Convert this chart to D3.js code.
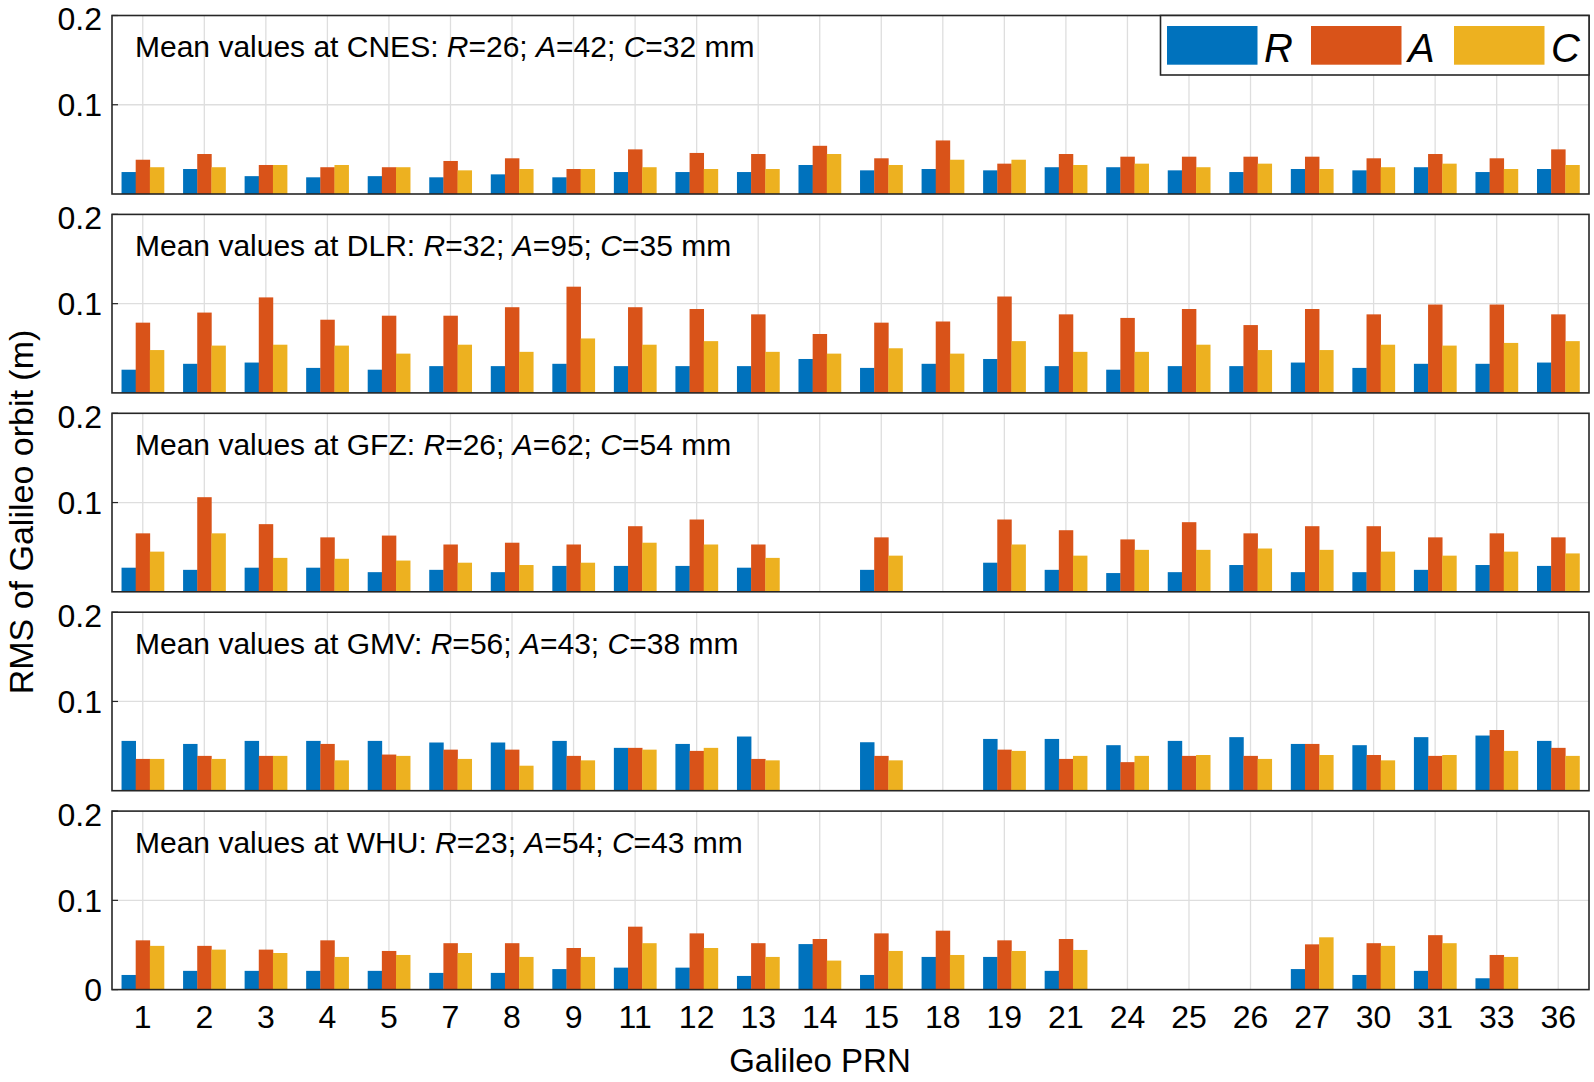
<!DOCTYPE html>
<html>
<head>
<meta charset="utf-8">
<script src="https://cdn.jsdelivr.net/npm/d3@7"></script>
<style>
html,body{margin:0;padding:0;background:#fff;}
svg{display:block;}
</style>
</head>
<body>
<svg id="chart" width="1594" height="1082" font-family="'Liberation Sans', Arial, Helvetica, sans-serif"></svg>
<script>
// ---------- DATA ----------
const prns = ["1","2","3","4","5","7","8","9","11","12","13","14","15","18","19","21","24","25","26","27","30","31","33","36"];
const components = ["R","A","C"];
const centers = ["CNES","DLR","GFZ","GMV","WHU"];
const meanR = [26,32,26,56,23];
const meanA = [42,95,62,43,54];
const meanC = [32,35,54,38,43];
const yTicks = [0,0.1,0.2];

const cnesR = [0.0246,0.028,0.020,0.0187,0.020,0.0187,0.022,0.0187,0.0246,0.0246,0.0246,0.0325,0.0265,0.028,0.0265,0.030,0.030,0.0265,0.0246,0.028,0.0265,0.030,0.0246,0.028];
const cnesA = [0.0384,0.0448,0.0325,0.030,0.030,0.037,0.040,0.028,0.050,0.046,0.0448,0.054,0.040,0.060,0.034,0.0448,0.0418,0.0418,0.0418,0.0418,0.040,0.0448,0.040,0.050];
const cnesC = [0.030,0.030,0.0325,0.0325,0.030,0.0265,0.028,0.028,0.030,0.028,0.028,0.0448,0.0325,0.0384,0.0384,0.0325,0.034,0.030,0.034,0.028,0.030,0.034,0.028,0.0325];

const dlrR = [0.026,0.0326,0.034,0.028,0.026,0.030,0.030,0.0326,0.030,0.030,0.030,0.038,0.028,0.0326,0.038,0.030,0.026,0.030,0.030,0.034,0.028,0.0326,0.0326,0.034];
const dlrA = [0.0787,0.090,0.107,0.082,0.0865,0.0865,0.096,0.119,0.096,0.094,0.088,0.066,0.0787,0.080,0.108,0.088,0.084,0.094,0.076,0.094,0.088,0.099,0.099,0.088];
const dlrC = [0.048,0.053,0.054,0.053,0.044,0.054,0.046,0.061,0.054,0.058,0.046,0.044,0.050,0.044,0.058,0.046,0.046,0.054,0.048,0.048,0.054,0.053,0.056,0.058];

const gfzR = [0.027,0.0246,0.027,0.027,0.022,0.0246,0.022,0.029,0.029,0.029,0.027,null,0.0246,null,0.0326,0.0246,0.021,0.022,0.030,0.022,0.022,0.0246,0.030,0.029];
const gfzA = [0.0655,0.106,0.0758,0.061,0.063,0.053,0.055,0.053,0.0735,0.081,0.053,null,0.061,null,0.081,0.069,0.0587,0.078,0.0655,0.0735,0.0735,0.061,0.0655,0.061];
const gfzC = [0.045,0.0655,0.038,0.037,0.035,0.0326,0.030,0.0326,0.055,0.053,0.038,null,0.0405,null,0.053,0.0405,0.047,0.047,0.0485,0.047,0.045,0.0405,0.045,0.043];

const gmvR = [0.0558,0.0524,0.0558,0.0558,0.0558,0.054,0.054,0.0558,0.048,0.0524,0.0607,null,0.0543,null,0.058,0.058,0.051,0.0558,0.060,0.0524,0.051,0.060,0.0618,0.0558];
const gmvA = [0.0356,0.039,0.039,0.0524,0.0405,0.046,0.046,0.039,0.048,0.0446,0.0356,null,0.039,null,0.046,0.0356,0.032,0.039,0.039,0.0524,0.040,0.039,0.068,0.048];
const gmvC = [0.0356,0.0356,0.039,0.034,0.039,0.0356,0.028,0.034,0.046,0.048,0.034,null,0.034,null,0.0446,0.039,0.039,0.040,0.0356,0.040,0.034,0.040,0.0446,0.039];

const whuR = [0.0164,0.021,0.021,0.021,0.021,0.0187,0.0187,0.023,0.0246,0.0246,0.0153,0.051,0.0164,0.0366,0.0366,0.021,null,null,null,0.023,0.0164,0.021,0.0127,null];
const whuA = [0.0552,0.049,0.0448,0.0552,0.0433,0.052,0.052,0.0466,0.0705,0.063,0.052,0.0567,0.063,0.066,0.0552,0.0567,null,null,null,0.0507,0.052,0.061,0.0388,null];
const whuC = [0.049,0.0448,0.041,0.0366,0.0388,0.041,0.0366,0.0366,0.052,0.0466,0.0366,0.0325,0.0433,0.0388,0.0433,0.0444,null,null,null,0.0586,0.049,0.052,0.0366,null];

const seriesByCenter = [
  [cnesR,cnesA,cnesC],
  [dlrR,dlrA,dlrC],
  [gfzR,gfzA,gfzC],
  [gmvR,gmvA,gmvC],
  [whuR,whuA,whuC]
];

// ---------- LAYOUT ----------
const colors = ["#0072BD","#D95319","#EDB120"];
const left = 112, right = 1589;
const panelTop0 = 15.5, panelStep = 198.9, panelH = 178.5;
const axisColor = "#262626";
const gridColor = "#dedede";

const svg = d3.select("#chart");
const x0 = d3.scaleBand().domain(prns).range([left,right]).paddingInner(0).paddingOuter(0);
const groupW = x0.bandwidth()*0.69;
const x1 = d3.scaleBand().domain(components).range([-groupW/2, groupW/2]).padding(0);

centers.forEach((name, pi) => {
  const top = panelTop0 + pi*panelStep;
  const bottom = top + panelH;
  const y = d3.scaleLinear().domain([0,0.2]).range([bottom, top]);
  const g = svg.append("g");

  // vertical grid
  g.selectAll("line.vg").data(prns).enter().append("line")
    .attr("x1", d => x0(d)+x0.bandwidth()/2).attr("x2", d => x0(d)+x0.bandwidth()/2)
    .attr("y1", top).attr("y2", bottom)
    .attr("stroke", gridColor).attr("stroke-width", 1.3);
  // horizontal grid
  g.append("line").attr("x1", left).attr("x2", right)
    .attr("y1", y(0.1)).attr("y2", y(0.1))
    .attr("stroke", gridColor).attr("stroke-width", 1.3);

  // bars
  const series = seriesByCenter[pi];
  components.forEach((c, si) => {
    const vals = series[si];
    g.selectAll("rect.s"+si).data(prns.map((p,i)=>({p, v: vals[i]})).filter(d => d.v != null))
      .enter().append("rect")
      .attr("x", d => x0(d.p)+x0.bandwidth()/2 + x1(c))
      .attr("width", x1.bandwidth()+0.3)
      .attr("y", d => y(d.v))
      .attr("height", d => y(0)-y(d.v))
      .attr("fill", colors[si]);
  });

  // axis box
  g.append("rect").attr("x", left).attr("y", top).attr("width", right-left).attr("height", panelH)
    .attr("fill","none").attr("stroke", axisColor).attr("stroke-width", 1.6);

  // y axis tick labels
  const yt = pi === centers.length-1 ? yTicks : yTicks.filter(t => t > 0);
  g.selectAll("text.yt").data(yt).enter().append("text")
    .attr("x", 102).attr("y", d => y(d))
    .attr("dy", d => d === 0.2 ? "0.45em" : "0.35em")
    .attr("text-anchor","end").attr("font-size",32).attr("fill","#000")
    .text(d => d === 0 ? "0" : d3.format(".1f")(d));

  // small inward ticks on y axis
  g.selectAll("line.yk").data(yt).enter().append("line")
    .attr("x1", left).attr("x2", left+6).attr("y1", d=>y(d)).attr("y2", d=>y(d))
    .attr("stroke", axisColor).attr("stroke-width",1.2);

  // annotation
  const t = g.append("text").attr("x", 135).attr("y", top+41.5)
    .attr("font-size", 30).attr("fill","#000");
  t.append("tspan").text("Mean values at " + name + ": ");
  t.append("tspan").attr("font-style","italic").text("R");
  t.append("tspan").text("=" + meanR[pi] + "; ");
  t.append("tspan").attr("font-style","italic").text("A");
  t.append("tspan").text("=" + meanA[pi] + "; ");
  t.append("tspan").attr("font-style","italic").text("C");
  t.append("tspan").text("=" + meanC[pi] + " mm");

  // bottom x tick labels
  if (pi === centers.length-1) {
    g.selectAll("text.xt").data(prns).enter().append("text")
      .attr("x", d => x0(d)+x0.bandwidth()/2).attr("y", 1028)
      .attr("text-anchor","middle").attr("font-size",32).attr("fill","#000")
      .text(d => d);
  }
});

// x axis title
svg.append("text").attr("x", 820).attr("y", 1072)
  .attr("text-anchor","middle").attr("font-size",33).attr("fill","#000")
  .text("Galileo PRN");

// y axis title
svg.append("text")
  .attr("transform", "translate(33," + 512 + ") rotate(-90)")
  .attr("text-anchor","middle").attr("font-size",34).attr("fill","#000")
  .text("RMS of Galileo orbit (m)");

// legend
const lg = svg.append("g");
lg.append("rect").attr("x",1160.5).attr("y",15.5).attr("width",1589-1160.5).attr("height",59.5)
  .attr("fill","#fff").attr("stroke",axisColor).attr("stroke-width",1.6);
const swX = [1167,1311,1454];
components.forEach((c,i) => {
  lg.append("rect").attr("x", swX[i]).attr("y", 26).attr("width", 90.5).attr("height", 38.7).attr("fill", colors[i]);
  lg.append("text").attr("x", swX[i]+97).attr("y", 61.5).attr("font-size",40).attr("font-style","italic")
    .attr("fill","#000").text(c);
});
</script>
</body>
</html>
